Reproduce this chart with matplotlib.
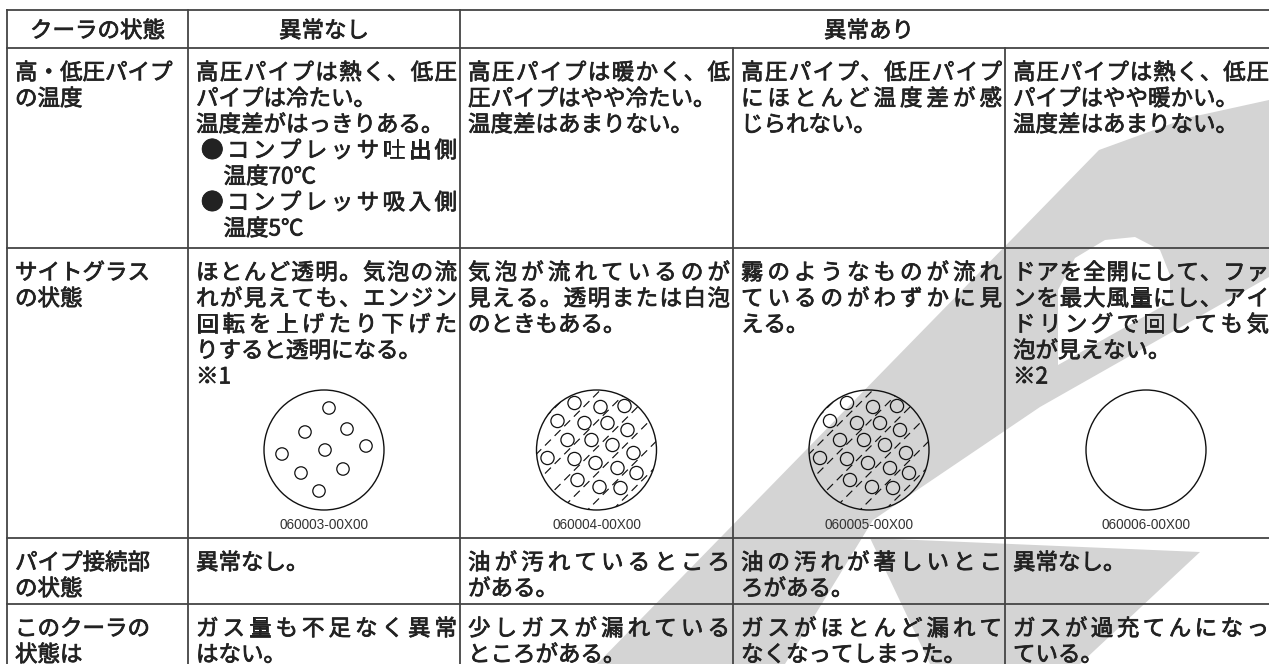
import matplotlib
matplotlib.use("Agg")
import matplotlib.pyplot as plt
import matplotlib.patheffects as pe
from matplotlib.patches import Circle, Polygon

plt.rcParams['font.family'] = ['Noto Sans CJK JP', 'DejaVu Sans']
plt.rcParams['lines.scale_dashes'] = False

W, H = 1269, 664
INK = '#222222'
GRID = '#444444'
WM = '#d4d4d4'
# regular weight thickened a little, close to a "medium" gothic
HEAVY = [pe.withStroke(linewidth=0.55, foreground=INK)]

# table frame (pixel positions)
col_edges = [7, 188, 460, 733, 1005, 1272]
row_edges = [10, 48, 248, 538, 604, 670]

headers = ["クーラの状態", "異常なし", "異常あり"]
header_spans = [(0, 1), (1, 2), (2, 5)]

row_labels = [
    ["高・低圧パイプ", "の温度"],
    ["サイトグラス", "の状態"],
    ["パイプ接続部", "の状態"],
    ["このクーラの", "状態は"],
]

# each cell: list of paragraphs, each paragraph a list of lines
temp_cells = [
    [["高圧パイプは熱く、低圧", "パイプは冷たい。"], ["温度差がはっきりある。"],
     ["●コンプレッサ吐出側", "温度70℃"], ["●コンプレッサ吸入側", "温度5℃"]],
    [["高圧パイプは暖かく、低", "圧パイプはやや冷たい。"], ["温度差はあまりない。"]],
    [["高圧パイプ、低圧パイプ", "にほとんど温度差が感", "じられない。"]],
    [["高圧パイプは熱く、低圧", "パイプはやや暖かい。"], ["温度差はあまりない。"]],
]
glass_cells = [
    [["ほとんど透明。気泡の流", "れが見えても、エンジン", "回転を上げたり下げた", "りすると透明になる。"], ["※1"]],
    [["気泡が流れているのが", "見える。透明または白泡", "のときもある。"]],
    [["霧のようなものが流れ", "ているのがわずかに見", "える。"]],
    [["ドアを全開にして、ファ", "ンを最大風量にし、アイ", "ドリングで回しても気", "泡が見えない。"], ["※2"]],
]
joint_cells = [
    [["異常なし。"]],
    [["油が汚れているところ", "がある。"]],
    [["油の汚れが著しいとこ", "ろがある。"]],
    [["異常なし。"]],
]
verdict_cells = [
    [["ガス量も不足なく異常", "はない。"]],
    [["少しガスが漏れている", "ところがある。"]],
    [["ガスがほとんど漏れて", "なくなってしまった。"]],
    [["ガスが過充てんになっ", "ている。"]],
]
body_rows = [temp_cells, glass_cells, joint_cells, verdict_cells]

# sight glass drawings
figure_ids = ["060003-00X00", "060004-00X00", "060005-00X00", "060006-00X00"]
figure_kind = ["clear", "foam", "foam", "empty"]
clear_dx = [5, -19, 23, 42, 1, -42, -23, 19, -5]
clear_dy = [-42, -18, -21, -4, 0, 4, 23, 19, 41]
foam_dx = [-22, 4, 28, -39, -12, 11, 31, -29, -5, 16, 37, -49, -22, -1, 21, 40, -19, 3, 24]
foam_dy = [-47, -43, -44, -29, -27, -27, -20, -10, -10, -5, 3, 8, 9, 13, 18, 23, 30, 37, 38]
streak_offsets = [-84, -56, -28, -2, 24, 51, 76]

# watermark shapes (light grey, behind everything)
wm_band = [(597, 664), (1099, 150), (1187, 118), (1269, 100), (1269, 277),
           (1040, 407), (873, 520), (785, 664)]
wm_hole = [(1058, 365), (1058, 290), (1075, 258), (1105, 240), (1135, 237),
           (1160, 250), (1170, 275), (1170, 302)]
wm_foot = [(870, 538), (1200, 552), (1080, 664), (930, 664)]

EM = 22.5
FS = EM * 72 / 100
PITCH = 26
BASE = 8.5

fig = plt.figure(figsize=(W / 100, H / 100), dpi=100)
ax = fig.add_axes([0, 0, 1, 1])
ax.set_xlim(0, W)
ax.set_ylim(H, 0)
ax.axis('off')

ax.add_patch(Polygon(wm_band, closed=True, facecolor=WM, edgecolor='none', zorder=0))
ax.add_patch(Polygon(wm_foot, closed=True, facecolor=WM, edgecolor='none', zorder=0))
ax.add_patch(Polygon(wm_hole, closed=True, facecolor='white', edgecolor='none', zorder=0.5))


def put_text(x, y, s, ha='left'):
    ax.text(x, y, s, ha=ha, va='baseline', fontsize=FS, color=INK, zorder=3,
            path_effects=HEAVY)


def put_line(x0, x1, yc, s, justify):
    yb = yc + BASE
    if justify and len(s) > 1:
        step = (x1 - x0 - EM) / (len(s) - 1)
        for i, ch in enumerate(s):
            put_text(x0 + i * step, yb, ch)
    else:
        put_text(x0, yb, s)


def put_cell(ci, ri, paragraphs, justify=True):
    left = col_edges[ci] + 8
    right = col_edges[ci + 1] - 3
    y = row_edges[ri] + 23
    for para in paragraphs:
        bullet = para[0].startswith("●")
        for k, line in enumerate(para):
            x0 = left
            if bullet:
                x0 = left + 5 if k == 0 else left + 5 + EM
            put_line(x0, right, y, line, justify and (k < len(para) - 1 or (bullet and k == 0)))
            y += PITCH


# grid
for y in row_edges[:-1]:
    ax.plot([col_edges[0], col_edges[-1]], [y, y], color=GRID, lw=1.3, zorder=2)
for i, x in enumerate(col_edges[:-1]):
    y_top = row_edges[1] if i >= 3 else row_edges[0]
    ax.plot([x, x], [y_top, row_edges[-1]], color=GRID, lw=1.3, zorder=2)

# header
yh = (row_edges[0] + row_edges[1]) / 2
for text, (a, b) in zip(headers, header_spans):
    xc = (col_edges[a] + (col_edges[b] if b < 5 else 1278)) / 2
    put_text(xc, yh + BASE, text, ha='center')

# body
for ri, (label, cells) in enumerate(zip(row_labels, body_rows), start=1):
    put_cell(0, ri, [label], justify=False)
    for ci, para in enumerate(cells, start=1):
        put_cell(ci, ri, para)

# sight glass pictures
cy = 450
R = 60
for ci, (fid, kind) in enumerate(zip(figure_ids, figure_kind), start=1):
    cx = (col_edges[ci] + (col_edges[ci + 1] if ci < 4 else 1287)) / 2
    ring = Circle((cx, cy), R, fill=False, edgecolor='#111111', lw=1.0, zorder=3)
    ax.add_patch(ring)
    if kind == "clear":
        for dx, dy in zip(clear_dx, clear_dy):
            ax.add_patch(Circle((cx + dx, cy + dy), 6.2, fill=False, edgecolor='#111111', lw=0.9, zorder=3))
    elif kind == "foam":
        for dx, dy in zip(foam_dx, foam_dy):
            ax.add_patch(Circle((cx + dx, cy + dy), 6.6, fill=False, edgecolor='#111111', lw=0.9, zorder=3))
        for u in streak_offsets:
            ln, = ax.plot([cx - 90, cx + 90], [cy + u + 90, cy + u - 90], color='#111111', lw=0.85,
                          linestyle=(0, (6, 3.8)), zorder=3)
            ln.set_clip_path(ring)
    ax.text(cx, cy + 75, fid, ha='center', va='center', fontsize=9.8, color='#333333',
            family='Liberation Sans', zorder=3)

fig.savefig('out.png', dpi=100)
